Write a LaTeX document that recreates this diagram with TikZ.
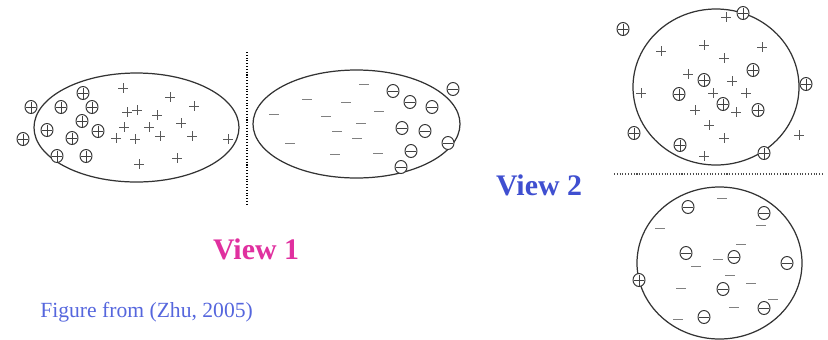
\documentclass[tikz,border=0pt]{standalone}
\usepackage{fontspec}
\setmainfont{Liberation Serif}
\usepackage{xcolor}
\usepackage{tikz}
\definecolor{viewpink}{HTML}{E0309F}
\definecolor{viewblue}{HTML}{3F4FD0}
\definecolor{citeblue}{HTML}{5566DD}

\begin{document}
\begin{tikzpicture}[
    x=0.02cm, y=-0.02cm,
    cluster/.style={draw=black!80, line width=0.7pt},
    ring/.style={draw=black!80, line width=0.55pt},
    ringcross/.style={draw=black!75, line width=0.35pt},
    plusmark/.style={draw=black!65, line width=0.4pt},
    minusmark/.style={draw=black!50, line width=0.5pt},
    split/.style={draw=black, line width=0.6pt, densely dotted},
]
    \useasboundingbox (0,0) rectangle (828,339);

    % View 1: split line and the two clusters
    \coordinate (vtop) at (247,52);
    \coordinate (vbot) at (247,205);
    \draw[split] (vtop) -- (vbot);
    \draw[cluster] (136.5,127.5) ellipse[x radius=102.5, y radius=54.5];
    \draw[cluster] (356.5,124) ellipse[x radius=103.5, y radius=54];

    % View 2: split line and the two clusters
    \coordinate (hleft) at (614,174);
    \coordinate (hright) at (823,174);
    \draw[split, draw=black!70] (hleft) -- (hright);
    \draw[cluster] (716,87) ellipse[x radius=83, y radius=78];
    \draw[cluster] (719.5,263) ellipse[x radius=82.5, y radius=76];

    % labelled positives (circled plus)
    \foreach \x/\y in {83/93, 31/107, 61/107, 92/107, 82/121, 47/130, 98/131,
        23/139, 72/138, 57/156, 86/156,
        623/29, 743/13, 753/70, 704/80, 679/94, 723/104, 758/110, 806/84,
        634/133, 680/145, 764/153, 639/280} {
        \draw[ring, fill=white] (\x,\y) ellipse[x radius=6, y radius=6.5];
        \draw[ringcross] (\x-5,\y) -- (\x+5,\y) (\x,\y-5.5) -- (\x,\y+5.5);
    }

    % labelled negatives (circled minus)
    \foreach \x/\y in {393/91, 453/89, 410/102, 432/107, 402/128, 425/131,
        448/143, 411/151, 401/167,
        688/207, 764/213, 686/253, 734/257, 787/263, 723/289, 764/308, 704/317} {
        \draw[ring, fill=white] (\x,\y) ellipse[x radius=6, y radius=6.5];
        \draw[ringcross] (\x-5,\y) -- (\x+5,\y);
    }

    % unlabelled positives
    \foreach \x/\y in {123/88, 170/97, 194/106, 127/112, 137/110, 157/115,
        181/123, 124/127, 149/127, 116/138, 135/139, 160/136, 192/136,
        228/139, 177/158, 139/164,
        726/17, 661/51, 704/45, 762/47, 724/58, 688/74, 732/81, 641/93,
        713/93, 746/93, 695/110, 736/112, 709/125, 724/138, 799/135, 704/156} {
        \draw[plusmark] (\x-5,\y) -- (\x+5,\y) (\x,\y-5) -- (\x,\y+5);
    }

    % unlabelled negatives
    \foreach \x/\y in {364/84, 307/99, 346/102, 379/111, 274/114, 326/116,
        361/123, 337/131, 357/138, 290/143, 335/154, 378/153,
        722/198, 660/228, 761/225, 741/244, 718/259, 696/266, 730/275,
        751/283, 681/288, 773/299, 734/307, 678/319} {
        \draw[minusmark] (\x-5,\y) -- (\x+5,\y);
    }

    % Labels
    \node[font=\fontsize{17}{20}\selectfont\bfseries, text=viewpink] (view1) at (256,249) {View 1};
    \node[font=\fontsize{17}{20}\selectfont\bfseries, text=viewblue] (view2) at (539,185) {View 2};
    \node[font=\fontsize{12.3}{14}\selectfont, text=citeblue, anchor=west, inner sep=0pt] (source) at (40,312) {Figure from (Zhu, 2005)};
\end{tikzpicture}
\end{document}
